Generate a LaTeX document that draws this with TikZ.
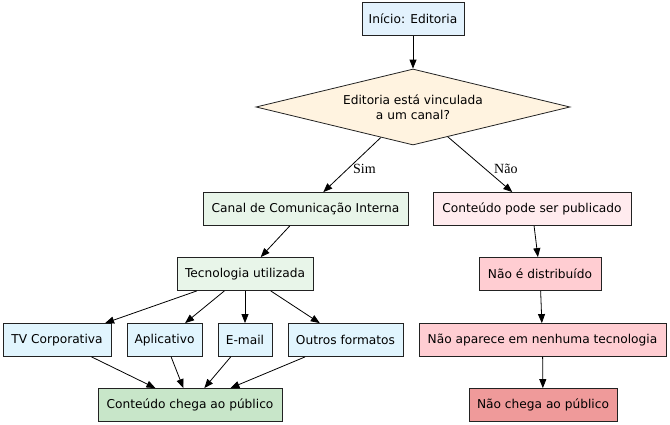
\documentclass[tikz,border=0pt]{standalone}
\usepackage{fontspec}
\setmainfont{DejaVu Sans}
\newfontfamily\edgefont{Liberation Serif}
\usetikzlibrary{shapes.geometric,arrows.meta}
\definecolor{cblueA}{HTML}{E3F2FD}
\definecolor{cblueB}{HTML}{E1F5FE}
\definecolor{corange}{HTML}{FFF3E0}
\definecolor{cgreenA}{HTML}{E8F5E9}
\definecolor{cgreenB}{HTML}{C8E6C9}
\definecolor{credA}{HTML}{FFEBEE}
\definecolor{credB}{HTML}{FFCDD2}
\definecolor{credC}{HTML}{EF9A9A}
\definecolor{cline}{HTML}{222222}
\begin{document}
\begin{tikzpicture}[x=1pt,y=-1pt,
  box/.style={draw=cline,line width=0.8pt,rectangle,minimum height=33pt,inner sep=0pt,font=\fontsize{12.2}{14}\selectfont},
  dia/.style={draw=cline,line width=0.8pt,diamond,aspect=4.13,minimum width=314pt,minimum height=76pt,inner sep=0pt,align=center,font=\fontsize{12.2}{15}\selectfont},
  arr/.style={draw=black,line width=0.8pt,-{Triangle[length=9pt,width=7pt]}},
  elab/.style={font=\edgefont\fontsize{14}{15}\selectfont,anchor=west,inner sep=0pt}]
\useasboundingbox (0,0) rectangle (670,425);
\node[box,fill=cblueA,minimum width=102pt] (start) at (413,19) {Início: Editoria};
\node[dia,fill=corange] (q) at (413,107) {Editoria está vinculada\\a um canal?};
\node[box,fill=cgreenA,minimum width=205pt] (canal) at (305.5,209) {Canal de Comunicação Interna};
\node[box,fill=credA,minimum width=198pt] (pode) at (532,209) {Conteúdo pode ser publicado};
\node[box,fill=cgreenA,minimum width=136pt] (tec) at (245,274) {Tecnologia utilizada};
\node[box,fill=cblueB,minimum width=108pt] (tv) at (57,340) {TV Corporativa};
\node[box,fill=cblueB,minimum width=75pt] (app) at (164.5,340) {Aplicativo};
\node[box,fill=cblueB,minimum width=54pt] (mail) at (245,340) {E-mail};
\node[box,fill=cblueB,minimum width=115pt] (outros) at (345.5,340) {Outros formatos};
\node[box,fill=cgreenB,minimum width=184pt] (chega) at (190,405) {Conteúdo chega ao público};
\node[box,fill=credB,minimum width=122pt] (dist) at (540,274) {Não é distribuído};
\node[box,fill=credB,minimum width=247pt] (aparece) at (542.5,340) {Não aparece em nenhuma tecnologia};
\node[box,fill=credC,minimum width=148pt] (nchega) at (543,405) {Não chega ao público};
\draw[arr] (start) -- (q);
\draw[arr] (q) -- (canal);
\draw[arr] (q) -- (pode);
\node[elab] (lsim) at (353,169) {Sim};
\node[elab] (lnao) at (494,169) {Não};
\draw[arr] (canal) -- (tec);
\draw[arr] (tec) -- (tv);
\draw[arr] (tec) -- (app);
\draw[arr] (tec) -- (mail);
\draw[arr] (tec) -- (outros);
\draw[arr] (tv) -- (chega);
\draw[arr] (app) -- (chega);
\draw[arr] (mail) -- (chega);
\draw[arr] (outros) -- (chega);
\draw[arr] (pode) -- (dist);
\draw[arr] (dist) -- (aparece);
\draw[arr] (aparece) -- (nchega);
\end{tikzpicture}
\end{document}
